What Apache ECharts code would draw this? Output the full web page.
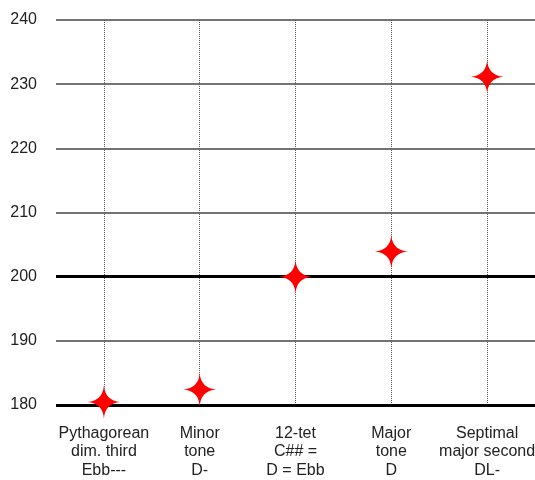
<!DOCTYPE html>
<html><head><meta charset="utf-8">
<script src="https://cdn.jsdelivr.net/npm/echarts@6/dist/echarts.min.js"></script>
<style>html,body{margin:0;padding:0;background:#fff}#c{width:535px;height:480px}</style>
</head><body><div id="c"></div>
<script>
const categories = ["Pythagorean\ndim. third\nEbb---", "Minor\ntone\nD-", "12-tet\nC## =\nD = Ebb", "Major\ntone\nD", "Septimal\nmajor second\nDL-"];
const cents = [180.45, 182.40, 200.00, 203.91, 231.17];
const yTicks = [180, 190, 200, 210, 220, 230, 240];
const emphasisLines = [180, 200];

const star = 'path://M16,0 Q17.2,14.8 32,16 Q17.2,17.2 16,32 Q14.8,17.2 0,16 Q14.8,14.8 16,0 Z';
const chart = echarts.init(document.getElementById('c'));
chart.setOption({
  animation: false,
  grid: {left: 56, right: 0, top: 20, bottom: 75, containLabel: false, outerBoundsMode: 'none'},
  xAxis: {
    type: 'category', data: categories, boundaryGap: true,
    axisLine: {show: false}, axisTick: {show: false}, splitLine: {show: false},
    axisLabel: {margin: 19, fontSize: 16, lineHeight: 18.5, color: '#222', fontFamily: 'Liberation Sans, Arial, sans-serif', interval: 0}
  },
  yAxis: {
    type: 'value', min: yTicks[0], max: yTicks[yTicks.length - 1], interval: 10,
    axisLine: {show: false}, axisTick: {show: false},
    axisLabel: {margin: 19, fontSize: 16, color: '#222', fontFamily: 'Liberation Sans, Arial, sans-serif'},
    splitLine: {show: true, lineStyle: {color: '#444', width: 1.5}}
  },
  series: [{
    type: 'scatter', data: cents, symbol: star, symbolSize: 33,
    itemStyle: {color: '#ff0000', opacity: 1}, z: 5,
    markLine: {
      silent: true, symbol: 'none', label: {show: false}, animation: false,
      data: categories.map(c => ({xAxis: c, lineStyle: {type: [1, 1], color: '#555', width: 1}}))
        .concat(emphasisLines.map(v => ({yAxis: v, lineStyle: {type: 'solid', color: '#000', width: 3}})))
    }
  }]
});
</script></body></html>
